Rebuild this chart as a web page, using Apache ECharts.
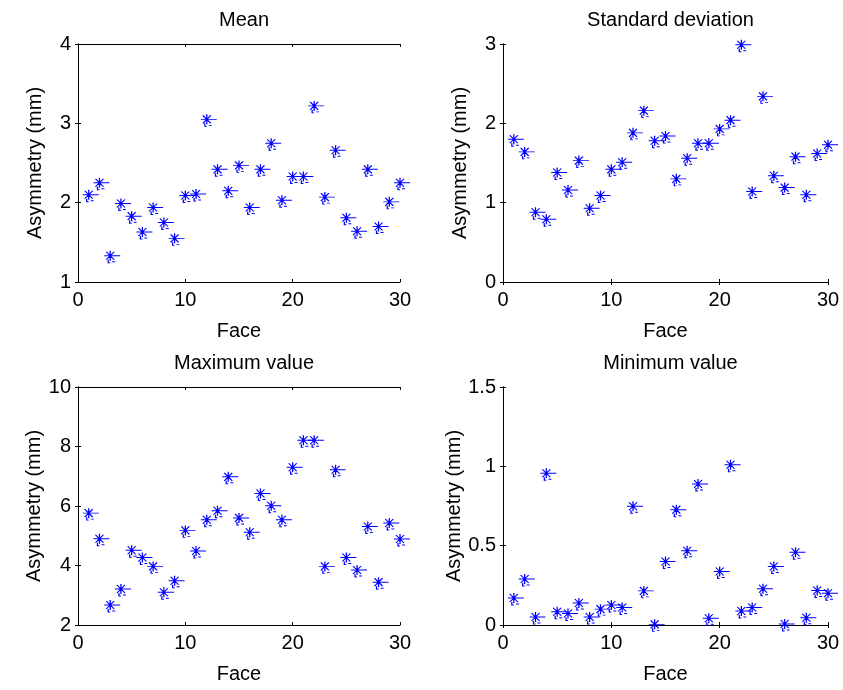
<!DOCTYPE html>
<html>
<head>
<meta charset="utf-8">
<script src="https://cdn.jsdelivr.net/npm/echarts@6/dist/echarts.min.js"></script>
<style>
  html, body { margin: 0; padding: 0; background: #fff; }
  #chart { width: 843px; height: 690px; }
</style>
</head>
<body>
<div id="chart"></div>
<script>
// Face index for each measurement
const faces = [1,2,3,4,5,6,7,8,9,10,11,12,13,14,15,16,17,18,19,20,21,22,23,24,25,26,27,28,29,30];

// Asymmetry statistics per face (mm)
const meanValues = [2.10,2.25,1.33,1.99,1.83,1.63,1.94,1.75,1.55,2.09,2.11,3.05,2.42,2.15,2.47,1.94,2.42,2.75,2.03,2.33,2.33,3.22,2.07,2.66,1.81,1.64,2.42,1.70,2.01,2.25];
const stdValues  = [1.80,1.64,0.88,0.79,1.38,1.16,1.53,0.93,1.09,1.42,1.51,1.88,2.16,1.78,1.84,1.30,1.56,1.75,1.75,1.93,2.04,2.99,1.14,2.34,1.34,1.19,1.58,1.10,1.62,1.73];
const maxValues  = [5.76,4.90,2.67,3.21,4.51,4.27,3.97,3.10,3.49,5.18,4.49,5.54,5.84,6.98,5.60,5.12,6.42,6.01,5.54,7.30,8.21,8.21,3.97,7.22,4.27,3.85,5.31,3.44,5.43,4.89];
const minValues  = [0.17,0.29,0.05,0.956,0.084,0.072,0.139,0.05,0.10,0.126,0.11,0.748,0.215,0.004,0.40,0.727,0.468,0.889,0.042,0.337,1.01,0.088,0.11,0.228,0.369,0.006,0.459,0.046,0.217,0.20];

// Panel titles and y-axis ranges
const titles = ['Mean', 'Standard deviation', 'Maximum value', 'Minimum value'];
const yRanges = [
  { min: 1, max: 4, interval: 1 },
  { min: 0, max: 3, interval: 1 },
  { min: 2, max: 10, interval: 2 },
  { min: 0, max: 1.5, interval: 0.5 }
];
const seriesValues = [meanValues, stdValues, maxValues, minValues];

const FONT = '"Liberation Sans", Arial, sans-serif';
const BLUE = '#0000ff';

// Panel rectangles
const grids = [
  { left: 78,  top: 44,  width: 322, height: 238 },
  { left: 503, top: 44,  width: 325, height: 238 },
  { left: 78,  top: 387, width: 322, height: 238 },
  { left: 503, top: 387, width: 325, height: 238 }
];

// Asterisk marker with the slight trailing strokes of the printed glyph
const starPath = 'path://M6,0L6,10M0,5L16,5M2,1L10,9M2,9L10,1M4,9L4,12L6,12M8,11L11,11';

const axisLine = { show: true, lineStyle: { color: '#000', width: 1 } };
const tickIn = { show: true, inside: true, length: 3, lineStyle: { color: '#000' } };

const xAxes = [], yAxes = [], series = [], titleList = [];
grids.forEach((g, i) => {
  const r = yRanges[i];
  // bottom / left axes with labels
  xAxes.push({
    gridIndex: i, type: 'value', min: 0, max: 30, interval: 10, position: 'bottom',
    name: 'Face', nameLocation: 'middle', nameGap: 39,
    nameTextStyle: { fontFamily: FONT, fontSize: 20, color: '#000' },
    axisLine, axisTick: tickIn, splitLine: { show: false },
    axisLabel: { fontFamily: FONT, fontSize: 20, color: '#000', margin: 8 }
  });
  yAxes.push({
    gridIndex: i, type: 'value', min: r.min, max: r.max, interval: r.interval, position: 'left',
    name: 'Asymmetry (mm)', nameLocation: 'middle', nameGap: 33, nameRotate: 90,
    nameTextStyle: { fontFamily: FONT, fontSize: 20, color: '#000' },
    axisLine, axisTick: tickIn, splitLine: { show: false },
    axisLabel: { fontFamily: FONT, fontSize: 20, color: '#000', margin: 7 }
  });
  // mirrored top / right axes closing the box
  xAxes.push({
    gridIndex: i, type: 'value', min: 0, max: 30, interval: 10, position: 'top',
    axisLine, axisTick: tickIn, splitLine: { show: false }, axisLabel: { show: false }
  });
  yAxes.push({
    gridIndex: i, type: 'value', min: r.min, max: r.max, interval: r.interval, position: 'right',
    axisLine, axisTick: tickIn, splitLine: { show: false }, axisLabel: { show: false }
  });
  series.push({
    type: 'scatter',
    xAxisIndex: i * 2, yAxisIndex: i * 2,
    data: faces.map((f, k) => [f, seriesValues[i][k]]),
    symbol: starPath,
    symbolSize: [16, 12],
    symbolOffset: [2, 1],
    itemStyle: { color: 'transparent', borderColor: BLUE, borderWidth: 1.1, opacity: 1 },
    emphasis: { disabled: true },
    silent: true,
    clip: false
  });
  titleList.push({
    text: titles[i],
    left: g.left + g.width / 2,
    top: g.top - 39,
    textAlign: 'center',
    textStyle: { fontFamily: FONT, fontSize: 20, fontWeight: 'normal', color: '#000' }
  });
});

const chart = echarts.init(document.getElementById('chart'), null, { renderer: 'canvas' });
chart.setOption({
  animation: false,
  backgroundColor: '#fff',
  title: titleList,
  grid: grids,
  xAxis: xAxes,
  yAxis: yAxes,
  series
});
</script>
</body>
</html>
